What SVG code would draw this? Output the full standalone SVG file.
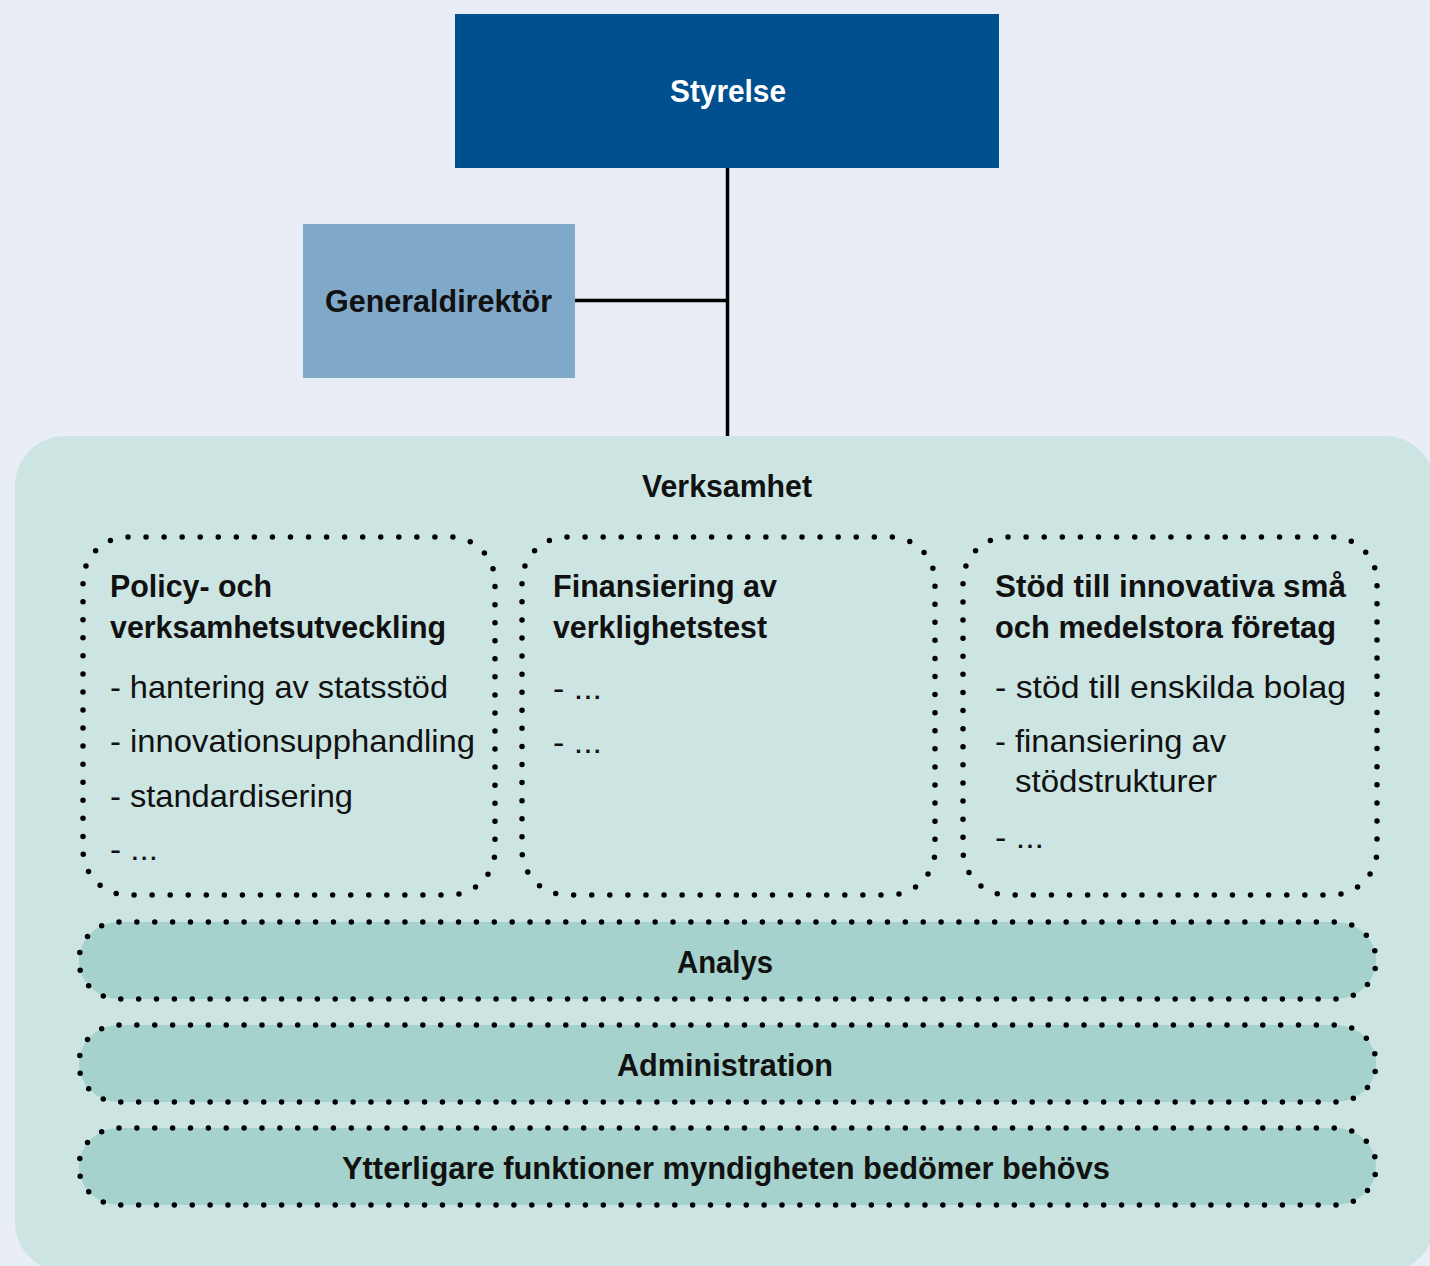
<svg xmlns="http://www.w3.org/2000/svg" width="1430" height="1266" viewBox="0 0 1430 1266">
<style>
text{font-family:"Liberation Sans","DejaVu Sans",Arial,sans-serif;font-size:32px;fill:#111;}
.b{font-weight:bold;}
.w{fill:#fff;}
.dot{fill:none;stroke:#000;stroke-width:5.5;stroke-linecap:round;stroke-dasharray:0 18;}
.bar{fill:#A5D2CD;}
.conn{stroke:#000;stroke-width:3.5;fill:none;}
</style>
<rect x="0" y="0" width="1430" height="1266" fill="#E8EDF6"/>
<g id="verksamhet">
<rect x="15" y="436" width="1420" height="836" rx="50" ry="50" fill="#CCE5E2"/>
<text class="b" x="642" y="497" textLength="170" lengthAdjust="spacingAndGlyphs">Verksamhet</text>
</g>
<g id="connectors">
<line class="conn" x1="727.5" y1="168" x2="727.5" y2="436"/>
<line class="conn" x1="575" y1="300.5" x2="727.5" y2="300.5"/>
</g>
<g id="styrelse">
<rect x="455" y="14" width="544" height="154" fill="#00508F"/>
<text class="b w" x="670" y="102" textLength="116" lengthAdjust="spacingAndGlyphs">Styrelse</text>
</g>
<g id="generaldirektor">
<rect x="303" y="224" width="272" height="154" fill="#7FA8C9"/>
<text class="b" x="325" y="312" textLength="227" lengthAdjust="spacingAndGlyphs">Generaldirektör</text>
</g>
<g id="policy">
<rect class="dot" x="83" y="537" width="412" height="358" rx="45" ry="45" pathLength="1458"/>
<text class="b" x="110" y="597" textLength="162" lengthAdjust="spacingAndGlyphs">Policy- och</text>
<text class="b" x="110" y="638" textLength="336" lengthAdjust="spacingAndGlyphs">verksamhetsutveckling</text>
<text x="110" y="698" textLength="338" lengthAdjust="spacingAndGlyphs">- hantering av statsstöd</text>
<text x="110" y="752" textLength="365" lengthAdjust="spacingAndGlyphs">- innovationsupphandling</text>
<text x="110" y="807" textLength="243" lengthAdjust="spacingAndGlyphs">- standardisering</text>
<text x="110" y="860" textLength="48" lengthAdjust="spacingAndGlyphs">- ...</text>
</g>
<g id="finansiering">
<rect class="dot" x="522" y="537" width="413" height="358" rx="45" ry="45" pathLength="1458"/>
<text class="b" x="553" y="597" textLength="224" lengthAdjust="spacingAndGlyphs">Finansiering av</text>
<text class="b" x="553" y="638" textLength="214" lengthAdjust="spacingAndGlyphs">verklighetstest</text>
<text x="553" y="699" textLength="49" lengthAdjust="spacingAndGlyphs">- ...</text>
<text x="553" y="753" textLength="49" lengthAdjust="spacingAndGlyphs">- ...</text>
</g>
<g id="stod">
<rect class="dot" x="963" y="537" width="414" height="358" rx="45" ry="45" pathLength="1458"/>
<text class="b" x="995" y="597" textLength="351" lengthAdjust="spacingAndGlyphs">Stöd till innovativa små</text>
<text class="b" x="995" y="638" textLength="341" lengthAdjust="spacingAndGlyphs">och medelstora företag</text>
<text x="995" y="698" textLength="351" lengthAdjust="spacingAndGlyphs">- stöd till enskilda bolag</text>
<text x="995" y="752" textLength="231" lengthAdjust="spacingAndGlyphs">- finansiering av</text>
<text x="1015" y="792" textLength="202" lengthAdjust="spacingAndGlyphs">stödstrukturer</text>
<text x="995" y="848" textLength="49" lengthAdjust="spacingAndGlyphs">- ...</text>
</g>
<g id="analys">
<rect class="bar" x="79" y="922" width="1297" height="77" rx="40" ry="38"/>
<rect class="dot" x="79" y="922" width="1297" height="77" rx="40" ry="38" pathLength="2700"/>
<text class="b" x="677" y="973" textLength="96" lengthAdjust="spacingAndGlyphs">Analys</text>
</g>
<g id="administration">
<rect class="bar" x="79" y="1025" width="1297" height="77" rx="40" ry="38"/>
<rect class="dot" x="79" y="1025" width="1297" height="77" rx="40" ry="38" pathLength="2700"/>
<text class="b" x="617" y="1076" textLength="216" lengthAdjust="spacingAndGlyphs">Administration</text>
</g>
<g id="ytterligare">
<rect class="bar" x="79" y="1128" width="1297" height="77" rx="40" ry="38"/>
<rect class="dot" x="79" y="1128" width="1297" height="77" rx="40" ry="38" pathLength="2700"/>
<text class="b" x="342" y="1179" textLength="768" lengthAdjust="spacingAndGlyphs">Ytterligare funktioner myndigheten bedömer behövs</text>
</g>
</svg>
